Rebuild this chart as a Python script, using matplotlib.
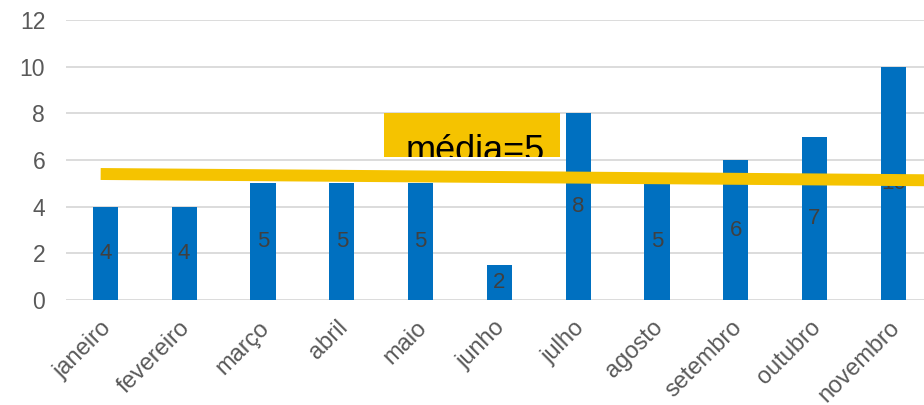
import matplotlib.pyplot as plt
import matplotlib.transforms as mtransforms
from matplotlib.patches import Rectangle

# dados mensais
months = ["janeiro", "fevereiro", "março", "abril", "maio", "junho",
          "julho", "agosto", "setembro", "outubro", "novembro"]
values = [4, 4, 5, 5, 5, 1.5, 8, 5, 6, 7, 10]

# linha da média (desenhada à mão no original)
avg_line_x = [-0.06, 10.5]
avg_line_y = [5.4, 5.13]
avg_label = "média=5"

BLUE = "#0070C0"
GOLD = "#F5C300"
GRID = "#D9D9D9"

plt.rcParams['font.family'] = ['Liberation Sans', 'DejaVu Sans']

fig = plt.figure(figsize=(9.24, 4.05), dpi=100)
ax = fig.add_axes([66 / 924, 105 / 405, 1 - 66 / 924, 280 / 405])

x = range(len(months))
ax.bar(x, values, width=0.32, color=BLUE, zorder=2)

for xi, v in zip(x, values):
    ax.text(xi, v / 2, f"{v:.0f}", ha='center', va='center',
            fontsize=16, color='#404040', zorder=3)

ax.plot(avg_line_x, avg_line_y, color=GOLD, linewidth=8.6,
        solid_capstyle='butt', zorder=4)

box = Rectangle((3.53, 6.13), 2.24, 1.88, facecolor=GOLD,
                edgecolor='none', zorder=4)
ax.add_patch(box)
t = ax.text(4.70, 5.95, avg_label, ha='center', va='baseline',
            fontsize=26, color='black', zorder=5, clip_on=True)
t.set_clip_path(box)

ax.set_xlim(-0.5, 10.39)
ax.set_ylim(0, 12)
ax.set_yticks(range(0, 13, 2))
ax.set_xticks(list(x))
ax.set_xticklabels(months, rotation=45, ha='right', va='top',
                   rotation_mode='anchor')
ax.tick_params(axis='both', length=0, labelcolor='#595959')
ax.tick_params(axis='y', pad=15, labelsize=16.5)
ax.tick_params(axis='x', pad=12, labelsize=17)

# desloca os rótulos do eixo x um pouco para a esquerda
shift = mtransforms.ScaledTranslation(-5 / 100, 0, fig.dpi_scale_trans)
for lbl in ax.get_xticklabels():
    lbl.set_transform(lbl.get_transform() + shift)

ax.grid(axis='y', color=GRID, linewidth=1.3, zorder=0)
ax.set_axisbelow(True)
for s in ax.spines.values():
    s.set_visible(False)

plt.savefig("out.png", dpi=100)
plt.close()
